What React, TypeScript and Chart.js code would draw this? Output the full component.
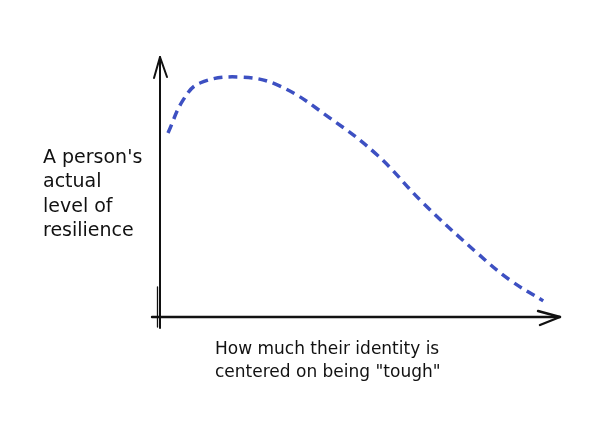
import React, { useEffect, useRef } from "react";
import { Chart, registerables } from "chart.js";

Chart.register(...registerables);

const identityX: number[] = [2.0, 5.8, 10.0, 20.0, 30.0, 42.5, 54.3, 65.8, 79.3, 87.5, 95.8];
const resilienceY: number[] = [70.8, 83.5, 90.0, 92.3, 88.8, 76.5, 62.3, 43.8, 24.6, 14.2, 6.2];
const yLabelLines: string[] = ["A person's", "actual", "level of", "resilience"];
const xLabelLines: string[] = ["How much their identity is", "centered on being \"tough\""];

const sketchAxes = {
  id: "sketchAxes",
  beforeDatasetsDraw(chart: any) {
    const { ctx, chartArea } = chart;
    const { left, right, top, bottom } = chartArea;
    ctx.save();
    ctx.strokeStyle = "#111";
    ctx.lineCap = "round";
    ctx.lineJoin = "round";
    // y axis
    ctx.lineWidth = 2;
    ctx.beginPath();
    ctx.moveTo(left, bottom + 11);
    ctx.lineTo(left, top);
    ctx.stroke();
    ctx.lineWidth = 1.3;
    ctx.beginPath();
    ctx.moveTo(left - 2.5, bottom + 10);
    ctx.lineTo(left - 2.5, bottom - 30);
    ctx.stroke();
    // y arrow
    ctx.lineWidth = 2;
    ctx.beginPath();
    ctx.moveTo(left - 6, top + 21);
    ctx.lineTo(left, top);
    ctx.lineTo(left + 7, top + 20);
    ctx.stroke();
    // x axis
    ctx.lineWidth = 2.4;
    ctx.beginPath();
    ctx.moveTo(left - 8, bottom);
    ctx.lineTo(right, bottom);
    ctx.stroke();
    ctx.beginPath();
    ctx.moveTo(right - 22, bottom - 6);
    ctx.lineTo(right, bottom);
    ctx.lineTo(right - 20, bottom + 8);
    ctx.stroke();
    ctx.restore();
  },
  afterDraw(chart: any) {
    const { ctx } = chart;
    ctx.save();
    ctx.fillStyle = "#111";
    ctx.textBaseline = "middle";
    ctx.textAlign = "left";
    ctx.font = "19px 'DejaVu Sans'";
    yLabelLines.forEach((t, i) => ctx.fillText(t, 43, 158 + i * 24.5));
    ctx.font = "17px 'DejaVu Sans'";
    xLabelLines.forEach((t, i) => ctx.fillText(t, 215, 350 + i * 23));
    ctx.restore();
  },
};

export default function App() {
  const ref = useRef<HTMLCanvasElement | null>(null);
  useEffect(() => {
    if (!ref.current) return;
    const chart = new Chart(ref.current, {
      type: "line",
      data: {
        datasets: [
          {
            data: identityX.map((x, i) => ({ x, y: resilienceY[i] })),
            borderColor: "#3d50c2",
            borderWidth: 3.5,
            borderDash: [9, 6],
            borderCapStyle: "butt",
            tension: 0.4,
            pointRadius: 0,
            fill: false,
          },
        ],
      },
      options: {
        responsive: false,
        animation: false,
        layout: { padding: { left: 160, right: 40, top: 57, bottom: 126 } },
        plugins: { legend: { display: false }, tooltip: { enabled: false } },
        scales: {
          x: { type: "linear", min: 0, max: 100, display: false },
          y: { min: 0, max: 100, display: false },
        },
      },
      plugins: [sketchAxes],
    });
    return () => chart.destroy();
  }, []);
  return (
    <div style={{ position: "fixed", left: 0, top: 0, width: 600, height: 443, background: "#fff" }}>
      <canvas ref={ref} width={600} height={443} style={{ width: 600, height: 443 }} />
    </div>
  );
}
